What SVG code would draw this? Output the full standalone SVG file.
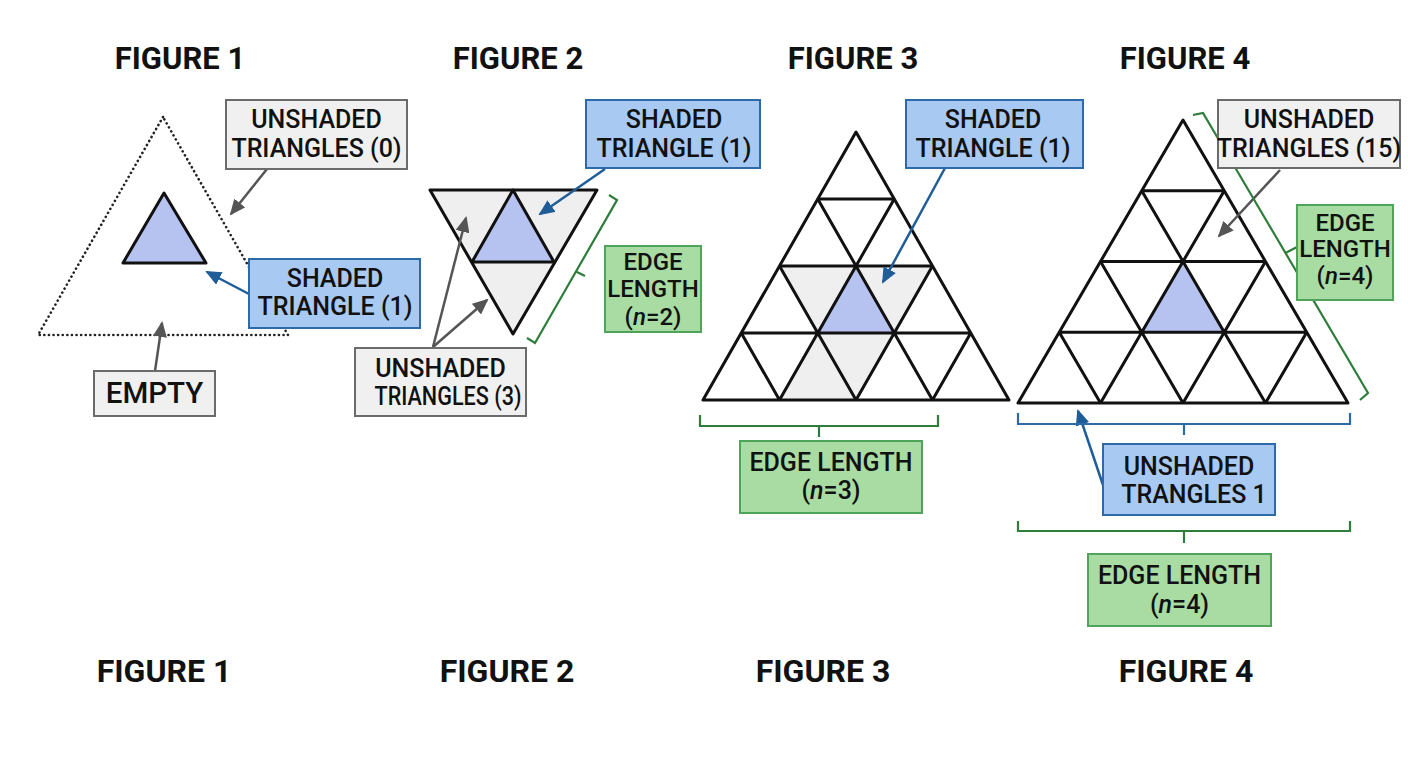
<svg xmlns="http://www.w3.org/2000/svg" width="1408" height="768" viewBox="0 0 1408 768">
<style>
.title{font-family:Roboto,"Liberation Sans",sans-serif;font-weight:700;font-size:31px;fill:#111;text-anchor:middle}
.lbl{font-family:Roboto,"Liberation Sans",sans-serif;font-weight:500;font-size:25px;fill:#111;text-anchor:middle}
.sm{font-size:24px}
.gbox{fill:#f0f0f0;stroke:#6b6b6b;stroke-width:2}
.bbox{fill:#a8c9f1;stroke:#2f6aa8;stroke-width:2}
.grbox{fill:#a8dca2;stroke:#4ea55a;stroke-width:2}
.tri{fill:none;stroke:#111;stroke-width:3;stroke-linejoin:round}
.shade{fill:#b6c2ef}
.grey{fill:#efefef}
.ga{stroke:#555;stroke-width:2.5;fill:none;marker-end:url(#ag)}
.ba{stroke:#1f5d99;stroke-width:2.5;fill:none;marker-end:url(#ab)}
.gbr{stroke:#2e7d3a;stroke-width:2.2;fill:none}
.bbr{stroke:#2f6aa8;stroke-width:2.2;fill:none}
</style>
<defs>
<marker id="ag" markerUnits="userSpaceOnUse" markerWidth="16" markerHeight="14" refX="14" refY="7" orient="auto"><path d="M0,0 L16,7 L0,14 Z" fill="#555"/></marker>
<marker id="ab" markerUnits="userSpaceOnUse" markerWidth="16" markerHeight="14" refX="14" refY="7" orient="auto"><path d="M0,0 L16,7 L0,14 Z" fill="#1f5d99"/></marker>
</defs>
<rect width="1408" height="768" fill="#fff"/>

<g id="titles">
<text class="title" x="180" y="69">FIGURE 1</text>
<text class="title" x="518" y="69">FIGURE 2</text>
<text class="title" x="853" y="69">FIGURE 3</text>
<text class="title" x="1185" y="69">FIGURE 4</text>
<text class="title" x="164" y="682" style="font-size:32px">FIGURE 1</text>
<text class="title" x="507" y="682" style="font-size:32px">FIGURE 2</text>
<text class="title" x="823" y="682" style="font-size:32px">FIGURE 3</text>
<text class="title" x="1186" y="682" style="font-size:32px">FIGURE 4</text>
</g>

<g id="fig1-shapes">
<polygon points="163,117 38,335 288,335" fill="none" stroke="#222" stroke-width="2.6" stroke-dasharray="0.1 4.5" stroke-linecap="round"/>
<polygon class="shade" points="164,193 123,263 206,263"/>
<polygon class="tri" points="164,193 123,263 206,263"/>
</g>

<g id="fig2-shapes">
<polygon class="grey" points="430,190 513,190 472,262"/>
<polygon class="shade" points="513,190 472,262 554,262"/>
<polygon class="grey" points="513,190 597,190 554,262"/>
<polygon class="grey" points="472,262 554,262 513,334"/>
<polygon class="tri" points="430,190 597,190 513,334"/>
<path class="tri" d="M513,190 L472,262 L554,262 Z"/>
</g>

<g id="fig3-shapes">
<polygon class="grey" points="779.5,266 856,266 817.75,333"/>
<polygon class="grey" points="856,266 932.5,266 894.25,333"/>
<polygon class="grey" points="817.75,333 779.5,400 856,400 894.25,333"/>
<polygon class="shade" points="856,266 817.75,333 894.25,333"/>
<polygon class="tri" points="856,132 703,400 1009,400"/>
<path class="tri" d="M817.75,199 H894.25 M779.5,266 H932.5 M741.25,333 H970.75
M894.25,199 L779.5,400 M932.5,266 L856,400 M970.75,333 L932.5,400
M817.75,199 L932.5,400 M779.5,266 L856,400 M741.25,333 L779.5,400"/>
</g>

<g id="fig4-shapes">
<polygon class="shade" points="1183,261.5 1141.75,332.25 1224.25,332.25"/>
<polygon class="tri" points="1183,120 1018,403 1348,403"/>
<path class="tri" d="M1141.75,190.75 H1224.25 M1100.5,261.5 H1265.5 M1059.25,332.25 H1306.75
M1224.25,190.75 L1100.5,403 M1265.5,261.5 L1183,403 M1306.75,332.25 L1265.5,403
M1141.75,190.75 L1265.5,403 M1100.5,261.5 L1183,403 M1059.25,332.25 L1100.5,403"/>
</g>

<g id="connectors">
<line class="ga" x1="267" y1="169" x2="231" y2="214"/>
<line class="ba" x1="249" y1="294" x2="207" y2="272"/>
<line class="ga" x1="155" y1="371" x2="162" y2="323"/>
<line class="ba" x1="605" y1="169" x2="540" y2="214"/>
<line class="ga" x1="433" y1="347" x2="466" y2="218"/>
<line class="ga" x1="433" y1="347" x2="487" y2="300"/>
<line class="ba" x1="945" y1="168" x2="883" y2="282"/>
<line class="ga" x1="1280" y1="170" x2="1219" y2="236"/>
<line class="ba" x1="1103" y1="485" x2="1078" y2="411"/>
<path class="gbr" d="M609,195 L617,200 L535,343 L527,338 M576,271.5 L585,276"/>
<path class="gbr" d="M700,415 V426 H938 V415 M819,426 V437"/>
<path class="gbr" d="M1193,115 L1203,113 L1368,393 L1360,400 M1285.5,253 L1297,247"/>
<path class="bbr" d="M1018,413 V424 H1350 V413 M1184,424 V435"/>
<path class="gbr" d="M1018,521 V531 H1350 V521 M1184,531 V543"/>
</g>

<g id="n-unshaded0">
<rect class="gbox" x="226" y="100" width="181" height="69"/>
<text class="lbl" x="316.5" y="128">UNSHADED</text>
<text class="lbl" x="316.5" y="157">TRIANGLES (0)</text>
</g>
<g id="n-shaded1-f1">
<rect class="bbox" x="249" y="259" width="171" height="69"/>
<text class="lbl" x="335" y="287">SHADED</text>
<text class="lbl" x="335" y="315">TRIANGLE (1)</text>
</g>
<g id="n-empty">
<rect class="gbox" x="94" y="371" width="121" height="45"/>
<text class="lbl" x="154.5" y="403" style="font-size:29.5px">EMPTY</text>
</g>

<g id="n-shaded1-f2">
<rect class="bbox" x="586" y="100" width="174" height="68"/>
<text class="lbl" x="674" y="128">SHADED</text>
<text class="lbl" x="674" y="157">TRIANGLE (1)</text>
</g>
<g id="n-edge2">
<rect class="grbox" x="605" y="246" width="96" height="86"/>
<text class="lbl sm" x="653" y="270">EDGE</text>
<text class="lbl sm" x="653" y="297">LENGTH</text>
<text class="lbl sm" x="653" y="325">(<tspan font-style="italic">n</tspan>=2)</text>
</g>
<g id="n-unshaded3">
<rect class="gbox" x="355" y="348" width="171" height="68"/>
<text class="lbl" x="440.5" y="377">UNSHADED</text>
<text class="lbl" x="448" y="405" textLength="147" lengthAdjust="spacingAndGlyphs">TRIANGLES (3)</text>
</g>

<g id="n-shaded1-f3">
<rect class="bbox" x="906" y="100" width="177" height="68"/>
<text class="lbl" x="993" y="128">SHADED</text>
<text class="lbl" x="993" y="157">TRIANGLE (1)</text>
</g>
<g id="n-edge3">
<rect class="grbox" x="740" y="441" width="182" height="72"/>
<text class="lbl" x="831" y="471">EDGE LENGTH</text>
<text class="lbl" x="831" y="499">(<tspan font-style="italic">n</tspan>=3)</text>
</g>

<g id="n-unshaded15">
<rect class="gbox" x="1218" y="100" width="182" height="68"/>
<text class="lbl" x="1309" y="128">UNSHADED</text>
<text class="lbl" x="1309" y="157">TRIANGLES (15)</text>
</g>
<g id="n-edge4-side">
<rect class="grbox" x="1297" y="205" width="96" height="95"/>
<text class="lbl sm" x="1345" y="231">EDGE</text>
<text class="lbl sm" x="1345" y="257">LENGTH</text>
<text class="lbl sm" x="1345" y="284">(<tspan font-style="italic">n</tspan>=4)</text>
</g>
<g id="n-trangles1">
<rect class="bbox" x="1103" y="444" width="172" height="71"/>
<text class="lbl" x="1189" y="475">UNSHADED</text>
<text class="lbl" x="1194" y="503">TRANGLES 1</text>
</g>
<g id="n-edge4-bottom">
<rect class="grbox" x="1088" y="554" width="183" height="72"/>
<text class="lbl" x="1179.5" y="584">EDGE LENGTH</text>
<text class="lbl" x="1179.5" y="613">(<tspan font-style="italic">n</tspan>=4)</text>
</g>
</svg>
